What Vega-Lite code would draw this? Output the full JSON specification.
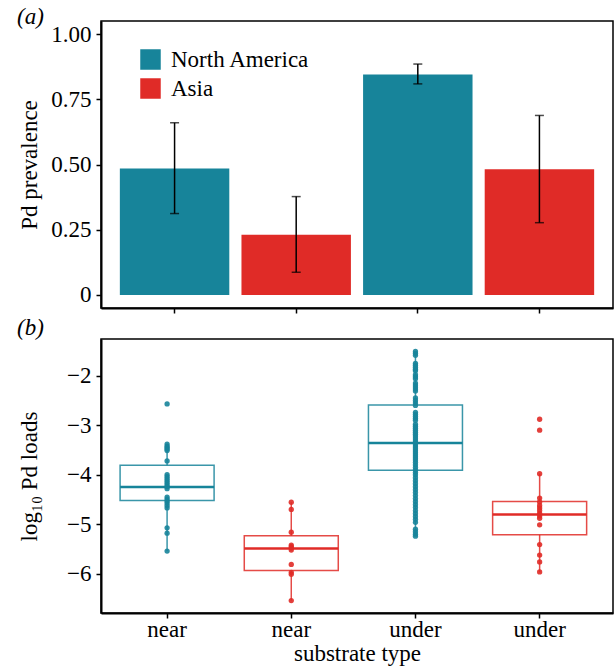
{
  "$schema": "https://vega.github.io/schema/vega-lite/v6.json",
  "padding": {"left": 16, "top": 5, "right": 0, "bottom": 0},
  "spacing": 1,
  "resolve": {"scale": {"x": "independent", "y": "independent", "color": "independent"}},
  "config": {
    "font": "Liberation Serif",
    "view": {"stroke": "black", "strokeWidth": 1.5},
    "axis": {
      "labelFont": "Liberation Serif", "titleFont": "Liberation Serif",
      "labelFontSize": 23, "titleFontSize": 23, "titleFontWeight": "normal",
      "labelColor": "black", "titleColor": "black",
      "tickColor": "black", "tickSize": 5, "tickWidth": 1.5,
      "domainColor": "black", "domainWidth": 2, "grid": false, "labelPadding": 5
    },
    "axisY": {"labelFont": "Liberation Serif", "labelFontSize": 23},
    "title": {
      "font": "Liberation Serif", "fontSize": 23, "fontWeight": "normal", "fontStyle": "italic",
      "anchor": "start", "frame": "group", "baseline": "alphabetic", "offset": 0, "dx": -84, "color": "black"
    }
  },
  "datasets": {
    "prev": [
      {"group": "NA|near", "region": "North America", "prevalence": 0.485, "lo": 0.312, "hi": 0.660},
      {"group": "AS|near", "region": "Asia", "prevalence": 0.231, "lo": 0.087, "hi": 0.377},
      {"group": "NA|under", "region": "North America", "prevalence": 0.845, "lo": 0.809, "hi": 0.885},
      {"group": "AS|under", "region": "Asia", "prevalence": 0.482, "lo": 0.277, "hi": 0.688}
    ],
    "boxes": [
      {"group": "NA|near", "region": "North America", "lower": -5.54, "q1": -4.52, "median": -4.245, "q3": -3.81, "upper": -3.38},
      {"group": "AS|near", "region": "Asia", "lower": -6.54, "q1": -5.93, "median": -5.49, "q3": -5.23, "upper": -4.555},
      {"group": "NA|under", "region": "North America", "lower": -5.24, "q1": -3.91, "median": -3.36, "q3": -2.59, "upper": -1.51},
      {"group": "AS|under", "region": "Asia", "lower": -5.97, "q1": -5.21, "median": -4.80, "q3": -4.54, "upper": -3.98}
    ],
    "loads": [
      {"group": "NA|near", "region": "North America", "load": -2.57},
      {"group": "NA|near", "region": "North America", "load": -3.38},
      {"group": "NA|near", "region": "North America", "load": -3.42},
      {"group": "NA|near", "region": "North America", "load": -3.45},
      {"group": "NA|near", "region": "North America", "load": -3.48},
      {"group": "NA|near", "region": "North America", "load": -3.51},
      {"group": "NA|near", "region": "North America", "load": -3.72},
      {"group": "NA|near", "region": "North America", "load": -4.0},
      {"group": "NA|near", "region": "North America", "load": -4.04},
      {"group": "NA|near", "region": "North America", "load": -4.08},
      {"group": "NA|near", "region": "North America", "load": -4.12},
      {"group": "NA|near", "region": "North America", "load": -4.16},
      {"group": "NA|near", "region": "North America", "load": -4.2},
      {"group": "NA|near", "region": "North America", "load": -4.24},
      {"group": "NA|near", "region": "North America", "load": -4.28},
      {"group": "NA|near", "region": "North America", "load": -4.45},
      {"group": "NA|near", "region": "North America", "load": -4.49},
      {"group": "NA|near", "region": "North America", "load": -4.53},
      {"group": "NA|near", "region": "North America", "load": -4.57},
      {"group": "NA|near", "region": "North America", "load": -4.62},
      {"group": "NA|near", "region": "North America", "load": -4.67},
      {"group": "NA|near", "region": "North America", "load": -5.07},
      {"group": "NA|near", "region": "North America", "load": -5.18},
      {"group": "NA|near", "region": "North America", "load": -5.54},
      {"group": "AS|near", "region": "Asia", "load": -4.555},
      {"group": "AS|near", "region": "Asia", "load": -4.70},
      {"group": "AS|near", "region": "Asia", "load": -5.16},
      {"group": "AS|near", "region": "Asia", "load": -5.42},
      {"group": "AS|near", "region": "Asia", "load": -5.45},
      {"group": "AS|near", "region": "Asia", "load": -5.48},
      {"group": "AS|near", "region": "Asia", "load": -5.52},
      {"group": "AS|near", "region": "Asia", "load": -5.81},
      {"group": "AS|near", "region": "Asia", "load": -5.97},
      {"group": "AS|near", "region": "Asia", "load": -6.01},
      {"group": "AS|near", "region": "Asia", "load": -6.54},
      {"group": "NA|under", "region": "North America", "load": -1.51},
      {"group": "NA|under", "region": "North America", "load": -1.55},
      {"group": "NA|under", "region": "North America", "load": -1.59},
      {"group": "NA|under", "region": "North America", "load": -1.75},
      {"group": "NA|under", "region": "North America", "load": -1.79},
      {"group": "NA|under", "region": "North America", "load": -1.83},
      {"group": "NA|under", "region": "North America", "load": -1.87},
      {"group": "NA|under", "region": "North America", "load": -1.9},
      {"group": "NA|under", "region": "North America", "load": -1.98},
      {"group": "NA|under", "region": "North America", "load": -2.02},
      {"group": "NA|under", "region": "North America", "load": -2.06},
      {"group": "NA|under", "region": "North America", "load": -2.15},
      {"group": "NA|under", "region": "North America", "load": -2.19},
      {"group": "NA|under", "region": "North America", "load": -2.23},
      {"group": "NA|under", "region": "North America", "load": -2.27},
      {"group": "NA|under", "region": "North America", "load": -2.31},
      {"group": "NA|under", "region": "North America", "load": -2.45},
      {"group": "NA|under", "region": "North America", "load": -2.5},
      {"group": "NA|under", "region": "North America", "load": -2.55},
      {"group": "NA|under", "region": "North America", "load": -2.6},
      {"group": "NA|under", "region": "North America", "load": -2.74},
      {"group": "NA|under", "region": "North America", "load": -2.78},
      {"group": "NA|under", "region": "North America", "load": -2.82},
      {"group": "NA|under", "region": "North America", "load": -2.86},
      {"group": "NA|under", "region": "North America", "load": -2.9},
      {"group": "NA|under", "region": "North America", "load": -2.98},
      {"group": "NA|under", "region": "North America", "load": -3.02},
      {"group": "NA|under", "region": "North America", "load": -3.06},
      {"group": "NA|under", "region": "North America", "load": -3.1},
      {"group": "NA|under", "region": "North America", "load": -3.14},
      {"group": "NA|under", "region": "North America", "load": -3.18},
      {"group": "NA|under", "region": "North America", "load": -3.22},
      {"group": "NA|under", "region": "North America", "load": -3.26},
      {"group": "NA|under", "region": "North America", "load": -3.3},
      {"group": "NA|under", "region": "North America", "load": -3.34},
      {"group": "NA|under", "region": "North America", "load": -3.38},
      {"group": "NA|under", "region": "North America", "load": -3.42},
      {"group": "NA|under", "region": "North America", "load": -3.46},
      {"group": "NA|under", "region": "North America", "load": -3.5},
      {"group": "NA|under", "region": "North America", "load": -3.54},
      {"group": "NA|under", "region": "North America", "load": -3.58},
      {"group": "NA|under", "region": "North America", "load": -3.62},
      {"group": "NA|under", "region": "North America", "load": -3.66},
      {"group": "NA|under", "region": "North America", "load": -3.7},
      {"group": "NA|under", "region": "North America", "load": -3.75},
      {"group": "NA|under", "region": "North America", "load": -3.8},
      {"group": "NA|under", "region": "North America", "load": -3.85},
      {"group": "NA|under", "region": "North America", "load": -3.9},
      {"group": "NA|under", "region": "North America", "load": -3.95},
      {"group": "NA|under", "region": "North America", "load": -4.0},
      {"group": "NA|under", "region": "North America", "load": -4.06},
      {"group": "NA|under", "region": "North America", "load": -4.12},
      {"group": "NA|under", "region": "North America", "load": -4.18},
      {"group": "NA|under", "region": "North America", "load": -4.24},
      {"group": "NA|under", "region": "North America", "load": -4.3},
      {"group": "NA|under", "region": "North America", "load": -4.36},
      {"group": "NA|under", "region": "North America", "load": -4.42},
      {"group": "NA|under", "region": "North America", "load": -4.48},
      {"group": "NA|under", "region": "North America", "load": -4.54},
      {"group": "NA|under", "region": "North America", "load": -4.6},
      {"group": "NA|under", "region": "North America", "load": -4.66},
      {"group": "NA|under", "region": "North America", "load": -4.72},
      {"group": "NA|under", "region": "North America", "load": -4.78},
      {"group": "NA|under", "region": "North America", "load": -4.84},
      {"group": "NA|under", "region": "North America", "load": -4.9},
      {"group": "NA|under", "region": "North America", "load": -4.96},
      {"group": "NA|under", "region": "North America", "load": -5.1},
      {"group": "NA|under", "region": "North America", "load": -5.15},
      {"group": "NA|under", "region": "North America", "load": -5.2},
      {"group": "NA|under", "region": "North America", "load": -5.24},
      {"group": "AS|under", "region": "Asia", "load": -2.88},
      {"group": "AS|under", "region": "Asia", "load": -3.10},
      {"group": "AS|under", "region": "Asia", "load": -3.98},
      {"group": "AS|under", "region": "Asia", "load": -4.47},
      {"group": "AS|under", "region": "Asia", "load": -4.55},
      {"group": "AS|under", "region": "Asia", "load": -4.62},
      {"group": "AS|under", "region": "Asia", "load": -4.67},
      {"group": "AS|under", "region": "Asia", "load": -4.72},
      {"group": "AS|under", "region": "Asia", "load": -4.78},
      {"group": "AS|under", "region": "Asia", "load": -4.83},
      {"group": "AS|under", "region": "Asia", "load": -4.88},
      {"group": "AS|under", "region": "Asia", "load": -5.01},
      {"group": "AS|under", "region": "Asia", "load": -5.41},
      {"group": "AS|under", "region": "Asia", "load": -5.62},
      {"group": "AS|under", "region": "Asia", "load": -5.76},
      {"group": "AS|under", "region": "Asia", "load": -5.96}
    ]
  },
  "vconcat": [
    {
      "title": {"text": "(a)", "dy": 12},
      "width": 512,
      "height": 287,
      "data": {"name": "prev"},
      "encoding": {
        "x": {
          "field": "group", "type": "nominal",
          "sort": ["NA|near", "AS|near", "NA|under", "AS|under"],
          "scale": {"paddingInner": 0.1, "paddingOuter": 0.155},
          "axis": {"labels": false, "title": null}
        }
      },
      "layer": [
        {
          "mark": {"type": "bar"},
          "encoding": {
            "y": {
              "field": "prevalence", "type": "quantitative",
              "scale": {"domain": [-0.05, 1.05], "nice": false, "zero": false},
              "axis": {
                "values": [0, 0.25, 0.5, 0.75, 1],
                "labelExpr": "datum.value == 0 ? '0' : format(datum.value, '.2f')",
                "labelFont": "Liberation Serif",
                "title": "Pd prevalence", "minExtent": 52, "maxExtent": 52, "titlePadding": 8
              }
            },
            "y2": {"datum": 0},
            "color": {
              "field": "region", "type": "nominal",
              "scale": {"domain": ["North America", "Asia"], "range": ["#17849a", "#e02b27"]},
              "legend": {
                "title": null, "orient": "none", "legendX": 38, "legendY": 27,
                "symbolType": "square", "symbolSize": 420, "symbolStrokeWidth": 0, "symbolOpacity": 1,
                "labelFont": "Liberation Serif", "labelFontSize": 23, "labelColor": "black",
                "labelOffset": 9, "rowPadding": 5, "padding": 0
              }
            }
          }
        },
        {
          "mark": {"type": "rule", "color": "black", "strokeWidth": 1.5},
          "encoding": {
            "y": {"field": "lo", "type": "quantitative"},
            "y2": {"field": "hi"}
          }
        },
        {
          "mark": {"type": "tick", "color": "black", "thickness": 1.5, "size": 9},
          "encoding": {"y": {"field": "lo", "type": "quantitative"}}
        },
        {
          "mark": {"type": "tick", "color": "black", "thickness": 1.5, "size": 9},
          "encoding": {"y": {"field": "hi", "type": "quantitative"}}
        }
      ]
    },
    {
      "title": {"text": "(b)", "dy": 5},
      "width": 512,
      "height": 274,
      "encoding": {
        "x": {
          "field": "group", "type": "nominal",
          "sort": ["NA|near", "AS|near", "NA|under", "AS|under"],
          "scale": {"paddingInner": 0.243, "paddingOuter": 0.183, "align": 0.42},
          "axis": {
            "labelExpr": "split(datum.label, '|')[1]", "labelAngle": 0,
            "labelPadding": 0, "title": "substrate type", "titlePadding": 1
          }
        }
      },
      "layer": [
        {
          "data": {"name": "boxes"},
          "mark": {"type": "rule", "strokeWidth": 1.5, "opacity": 0.85},
          "encoding": {
            "y": {
              "field": "lower", "type": "quantitative",
              "scale": {"domain": [-6.79, -1.26], "nice": false, "zero": false},
              "axis": {
                "values": [-6, -5, -4, -3, -2],
                "labelFont": "Liberation Serif",
                "title": "log₁₀ Pd loads", "minExtent": 52, "maxExtent": 52, "titlePadding": 8
              }
            },
            "y2": {"field": "upper"},
            "color": {
              "field": "region", "type": "nominal",
              "scale": {"domain": ["North America", "Asia"], "range": ["#17849a", "#e02b27"]},
              "legend": null
            }
          }
        },
        {
          "data": {"name": "boxes"},
          "mark": {"type": "bar", "fill": "white", "strokeWidth": 1.5, "strokeOpacity": 0.85},
          "encoding": {
            "y": {"field": "q3", "type": "quantitative"},
            "y2": {"field": "q1"},
            "stroke": {
              "field": "region", "type": "nominal",
              "scale": {"domain": ["North America", "Asia"], "range": ["#17849a", "#e02b27"]},
              "legend": null
            }
          }
        },
        {
          "data": {"name": "boxes"},
          "mark": {"type": "tick", "thickness": 2.5, "size": 94, "opacity": 1},
          "encoding": {
            "y": {"field": "median", "type": "quantitative"},
            "color": {"field": "region", "type": "nominal", "legend": null}
          }
        },
        {
          "data": {"name": "loads"},
          "mark": {"type": "circle", "size": 28, "opacity": 0.9},
          "encoding": {
            "y": {"field": "load", "type": "quantitative"},
            "color": {"field": "region", "type": "nominal", "legend": null}
          }
        }
      ]
    }
  ]
}
